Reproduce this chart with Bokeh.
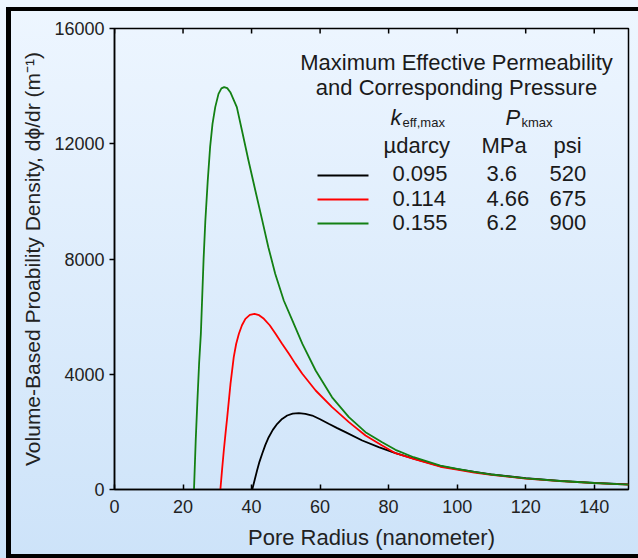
from bokeh.plotting import figure
from bokeh.models import Range1d, FixedTicker
from bokeh.embed import file_html
from bokeh.resources import INLINE
from bokeh.core.properties import value

# ---------------- data ----------------
radius_green = [23.2, 23.7, 24.2, 24.7, 25.2, 25.6, 26.0, 26.5, 27.2, 27.9, 28.6, 29.4, 30.35,
                31.2, 32.0, 32.9, 33.8, 35.7, 37.2, 39.1, 41.1, 43.0, 44.9, 46.9, 49.4,
                51.9, 54.8, 58.7, 63.5, 68.4, 73.25, 78.1, 82.0, 87.3, 95.1, 100, 105,
                110, 120, 130, 140, 150]
density_green = [0, 1700, 3100, 4400, 5400, 6700, 8000, 9300, 10700, 11880, 12690, 13270, 13730,
                 13920, 13964, 13930, 13790, 13270, 12460, 11420, 10380, 9400, 8410, 7490, 6560,
                 5870, 5060, 4130, 3200, 2510, 1990, 1643, 1377, 1120, 830, 715, 610,
                 520, 385, 295, 225, 170]

radius_red = [30.9, 31.4, 31.9, 32.4, 32.9, 33.85, 34.8, 35.5, 36.3, 37.2, 38.2, 39.5, 40.85,
              42.2, 43.6, 45.3, 47.0, 48.9, 50.9, 52.8, 54.8, 58.7, 63.5, 68.4, 73.25,
              78.1, 82.0, 87.3, 95.1, 100, 105, 110, 120, 130, 140, 150]
density_red = [0, 700, 1354, 1950, 2510, 3668, 4592, 5050, 5404, 5700, 5924, 6060, 6098,
               6050, 5924, 5700, 5404, 5060, 4710, 4360, 4016, 3436, 2857, 2337, 1874,
               1527, 1261, 1060, 790, 690, 590, 505, 378, 288, 220, 166]

radius_black = [40.2, 40.9, 41.6, 42.3, 43.1, 44.0, 45.0, 46.2, 47.5, 48.9, 50.4, 52.0, 53.8,
                55.7, 57.7, 60.0, 62.5, 65.0, 67.4, 72.3, 77.1, 82.0, 87.3, 95.1, 100,
                105, 110, 120, 130, 140, 150]
density_black = [0, 330, 660, 960, 1239, 1540, 1815, 2070, 2280, 2450, 2568, 2630, 2648,
                 2625, 2568, 2440, 2280, 2130, 1990, 1700, 1468, 1261, 1075, 815, 710,
                 610, 525, 392, 300, 232, 178]

x_ticks = [0, 20, 40, 60, 80, 100, 120, 140]
y_ticks = [0, 4000, 8000, 12000, 16000]

legend_title = ["Maximum Effective Permeability", "and Corresponding Pressure"]
legend_darcy = ["0.095", "0.114", "0.155"]
legend_mpa = ["3.6", "4.66", "6.2"]
legend_psi = ["520", "675", "900"]
series_colors = ["#000000", "#ff0000", "#138013"]

# ---------------- layout ----------------
W, H = 638, 558
L, R, T, B = 114, 628, 28, 489
XMAX, YMAX = 150, 16000
FONT = "Liberation Sans"
TICK_PX = 5


def px2x(px):
    return (px - L) / (R - L) * XMAX


def py2y(py):
    return (B - py) / (B - T) * YMAX


p = figure(frame_width=R - L, frame_height=B - T,
           min_border_left=L, min_border_right=W - R,
           min_border_top=T, min_border_bottom=H - B,
           x_range=Range1d(0, XMAX), y_range=Range1d(0, YMAX),
           output_backend="svg", toolbar_location=None)

p.border_fill_color = None
p.background_fill_color = None
p.outline_line_color = "black"
p.outline_line_width = 1.5
p.xgrid.visible = False
p.ygrid.visible = False

p.styles = {
    "background": (
        "linear-gradient(#000,#000) 6px 7px / 5px 551px no-repeat, "
        "linear-gradient(#000,#000) 6px 7px / 632px 4px no-repeat, "
        "linear-gradient(#000,#000) 6px 554px / 632px 4px no-repeat, "
        "linear-gradient(180deg, #eef6ff 0%, #cde3f9 100%)"
    )
}

xa = p.xaxis[0]
xa.ticker = FixedTicker(ticks=x_ticks)
xa.major_tick_in = TICK_PX
xa.major_tick_out = 0
xa.minor_tick_line_color = None
xa.axis_line_width = 1.5
xa.major_tick_line_width = 1.5
xa.major_label_text_font = FONT
xa.major_label_text_font_size = "18px"
xa.major_label_text_color = "#222222"
xa.major_label_standoff = 10
xa.axis_label = "Pore Radius (nanometer)"
xa.axis_label_text_font = FONT
xa.axis_label_text_font_size = "22px"
xa.axis_label_text_font_style = "normal"
xa.axis_label_text_color = "#222222"
xa.axis_label_standoff = 9

ya = p.yaxis[0]
ya.ticker = FixedTicker(ticks=y_ticks)
ya.major_tick_in = 0
ya.major_tick_out = TICK_PX
ya.minor_tick_line_color = None
ya.axis_line_width = 1.5
ya.major_tick_line_width = 1.5
ya.major_label_text_font = FONT
ya.major_label_text_font_size = "18px"
ya.major_label_text_color = "#222222"
ya.major_label_standoff = 5
ya.axis_label = "Volume-Based Proability Density, d\u03d5/dr (m\u207b\u00b9)"
ya.axis_label_text_font = FONT
ya.axis_label_text_font_size = "21px"
ya.axis_label_text_font_style = "normal"
ya.axis_label_text_color = "#222222"
ya.axis_label_standoff = 7

# inward tick marks along the top edge of the frame
tick_len = TICK_PX * YMAX / (B - T)
p.segment(x0=x_ticks, x1=x_ticks, y0=[YMAX] * len(x_ticks), y1=[YMAX - tick_len] * len(x_ticks),
          line_color="black", line_width=1.5)

# curves
p.line(radius_black, density_black, line_color=series_colors[0], line_width=1.8)
p.line(radius_red, density_red, line_color=series_colors[1], line_width=1.8)
p.line(radius_green, density_green, line_color=series_colors[2], line_width=1.8)

# legend block
tcol = "#1a1a1a"
FS = "22px"
p.text(x=[px2x(456)] * 2, y=[py2y(62), py2y(87)], text=legend_title,
       text_font=value(FONT), text_font_size=FS, text_align="center",
       text_baseline="alphabetic", text_color=tcol)

p.text(x=[px2x(390), px2x(505)], y=[py2y(117)] * 2, text=["k", "P"],
       text_font=value(FONT), text_font_size=FS, text_font_style="italic",
       text_baseline="alphabetic", text_color=tcol)
p.text(x=[px2x(402), px2x(521)], y=[py2y(122)] * 2, text=["eff,max", "kmax"],
       text_font=value(FONT), text_font_size="13px",
       text_baseline="alphabetic", text_color=tcol)
p.text(x=[px2x(383), px2x(481), px2x(553)], y=[py2y(145)] * 3,
       text=["\u00b5darcy", "MPa", "psi"],
       text_font=value(FONT), text_font_size=FS,
       text_baseline="alphabetic", text_color=tcol)

row_base = [173, 198, 222]
row_line = [175, 199, 223]
p.text(x=[px2x(392)] * 3, y=[py2y(b) for b in row_base], text=legend_darcy,
       text_font=value(FONT), text_font_size=FS, text_baseline="alphabetic", text_color=tcol)
p.text(x=[px2x(486)] * 3, y=[py2y(b) for b in row_base], text=legend_mpa,
       text_font=value(FONT), text_font_size=FS, text_baseline="alphabetic", text_color=tcol)
p.text(x=[px2x(549)] * 3, y=[py2y(b) for b in row_base], text=legend_psi,
       text_font=value(FONT), text_font_size=FS, text_baseline="alphabetic", text_color=tcol)
p.segment(x0=[px2x(317)] * 3, x1=[px2x(368)] * 3,
          y0=[py2y(v) for v in row_line], y1=[py2y(v) for v in row_line],
          line_color=series_colors, line_width=1.8)

open("out.html", "w").write(file_html(p, INLINE))
